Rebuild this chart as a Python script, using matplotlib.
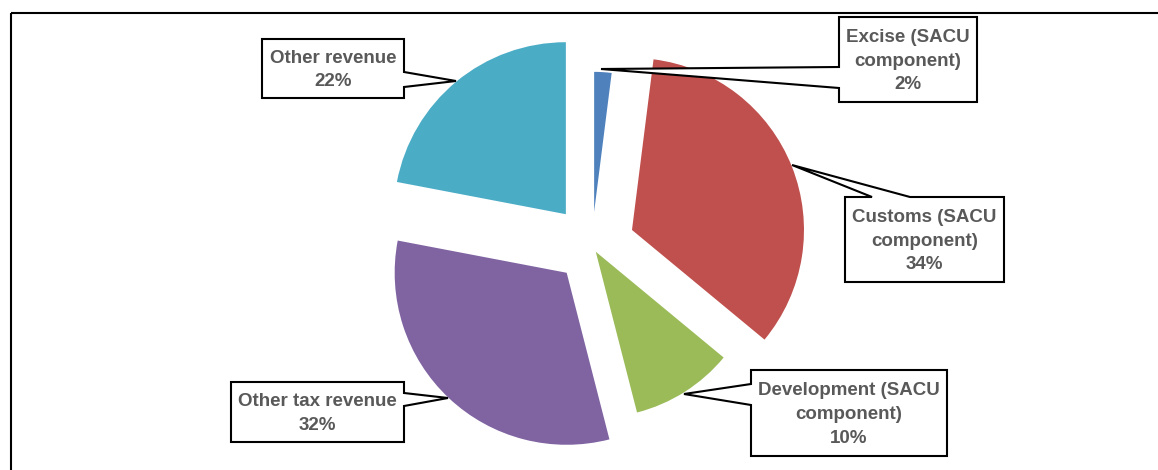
import matplotlib
matplotlib.use('Agg')
import matplotlib.pyplot as plt
from matplotlib.patches import Polygon

# revenue shares (%)
labels = ['Excise (SACU\ncomponent)', 'Customs (SACU\ncomponent)',
          'Development (SACU\ncomponent)', 'Other tax revenue', 'Other revenue']
shares = [2, 34, 10, 32, 22]
colors = ['#4F81BD', '#C0504D', '#9BBB59', '#8064A2', '#4BACC6']
explode_px = [34, 43, 7, 37, 41]

W, H = 1158, 470
R = 172
CX, CY = 592, 245.8

# callout boxes: (x0, y0, x1, y1), side of the pointer, pointer base a/b, pointer tip
callouts = [
    ((839, 17, 977, 102), 'left', 67, 88, (601, 69)),
    ((845, 197, 1004, 282), 'top', 872, 910, (792, 165)),
    ((751, 370, 947, 456), 'left', 384, 405, (684, 394)),
    ((231, 382, 404, 442), 'right', 393, 406, (448, 398)),
    ((262, 39, 404, 98), 'right', 72, 87, (456, 81)),
]


def Y(y):
    return H - y


def callout_poly(box, side, a, b, tip):
    x0, y0, x1, y1 = box
    if side == 'top':
        pts = [(x0, y0), (a, y0), tip, (b, y0), (x1, y0), (x1, y1), (x0, y1)]
    elif side == 'right':
        pts = [(x0, y0), (x1, y0), (x1, a), tip, (x1, b), (x1, y1), (x0, y1)]
    else:
        pts = [(x0, y0), (x1, y0), (x1, y1), (x0, y1), (x0, b), tip, (x0, a)]
    return [(px, Y(py)) for px, py in pts]


fig = plt.figure(figsize=(W / 100, H / 100), dpi=100)
ax = fig.add_axes([0, 0, 1, 1])

# explode is in data units here (pixels), since radius is in pixels too
wedges, _ = ax.pie(shares, colors=colors, startangle=90, counterclock=False,
                   radius=R, center=(CX, Y(CY)), explode=explode_px,
                   wedgeprops=dict(linewidth=0))
wedges[0].set_radius(140)
wedges[2].set_radius(166)

ax.set_xlim(0, W)
ax.set_ylim(0, H)
ax.set_aspect('auto')
ax.axis('off')

# chart frame (top and left edges)
ax.plot([11, W], [Y(13), Y(13)], color='black', lw=1.5, solid_capstyle='butt')
ax.plot([11, 11], [Y(13), 0], color='black', lw=1.5, solid_capstyle='butt')

for (box, side, a, b, tip), lab, v in zip(callouts, labels, shares):
    ax.add_patch(Polygon(callout_poly(box, side, a, b, tip), closed=True,
                         facecolor='white', edgecolor='black', lw=1.5,
                         joinstyle='miter', zorder=3))
    x0, y0, x1, y1 = box
    ax.text((x0 + x1) / 2, Y((y0 + y1) / 2 + 1.5), f'{lab}\n{v}%', ha='center', va='center',
            fontsize=13.5, fontweight='bold', color='#595959',
            family='Liberation Sans', linespacing=1.52, zorder=4)

fig.savefig('out.png', dpi=100, facecolor='white')
